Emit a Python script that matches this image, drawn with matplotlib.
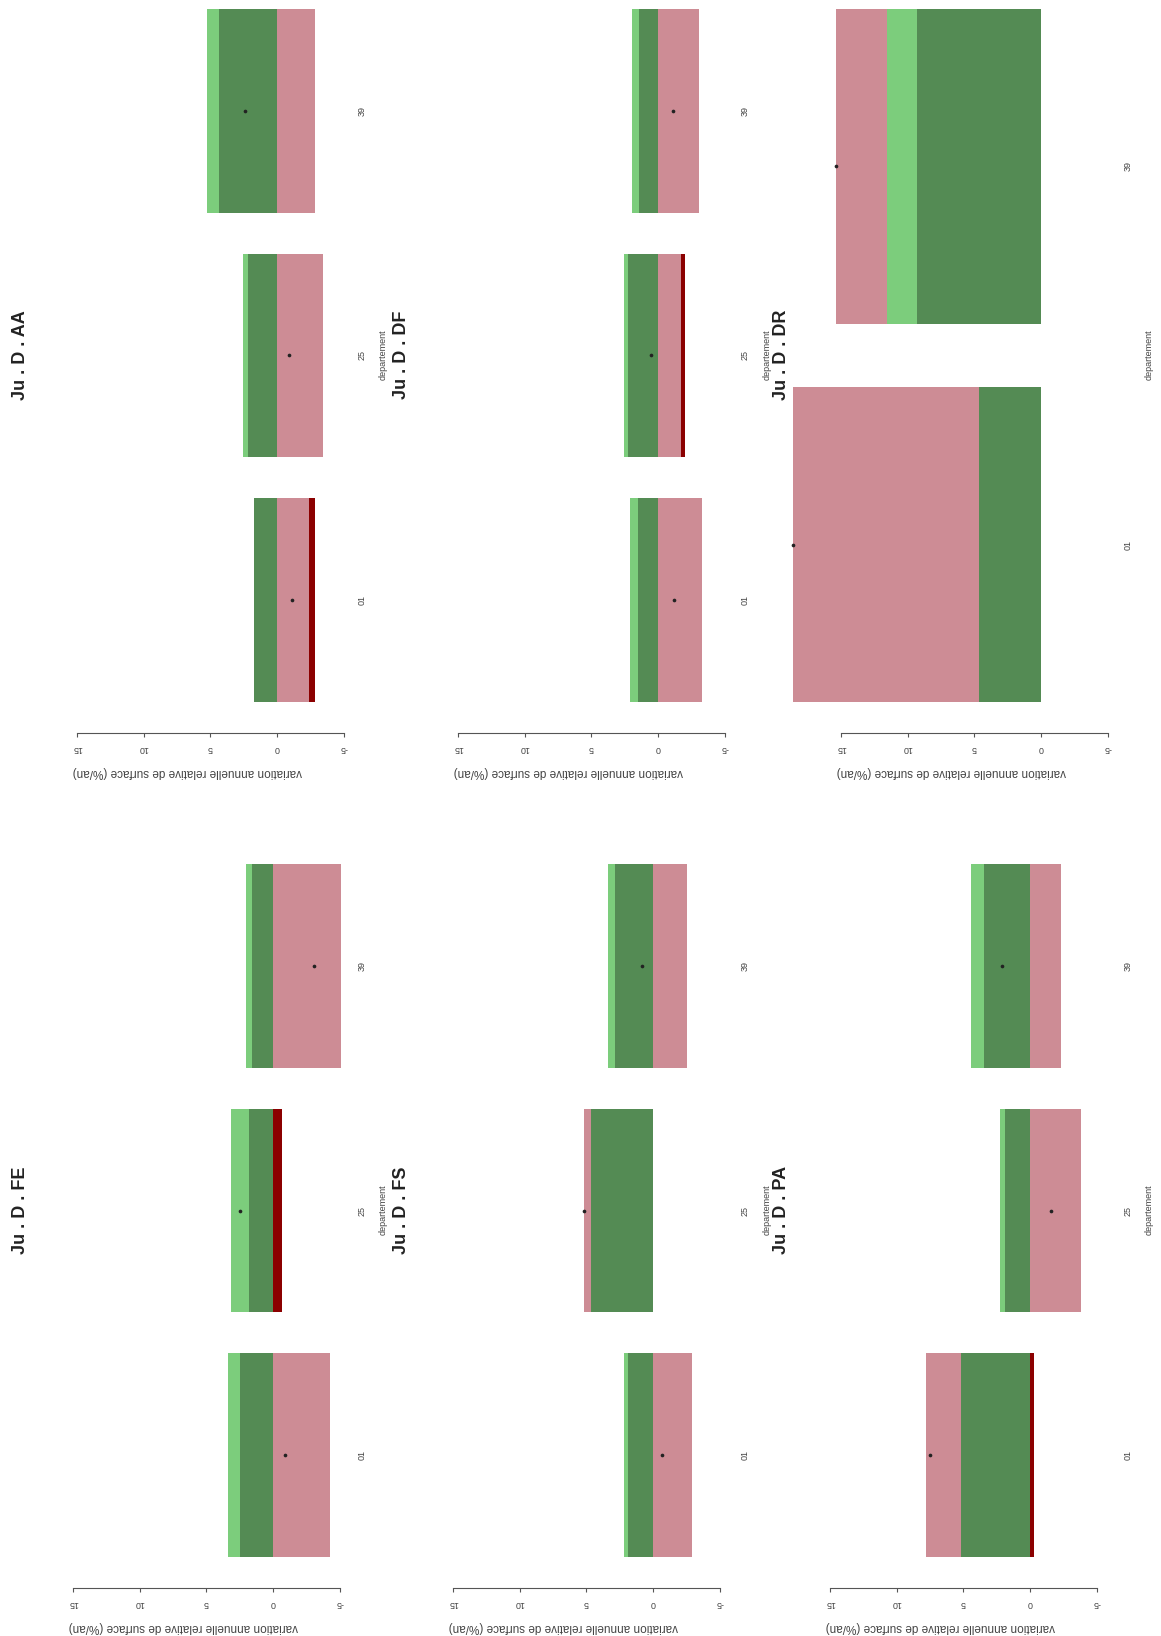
import matplotlib
matplotlib.use("Agg")
import matplotlib.pyplot as plt
import matplotlib.transforms as mtransforms

plt.rcParams['font.family'] = ['Liberation Sans', 'DejaVu Sans']

# one panel per zone, values in %/an
panel_names = ["Ju . D . AA", "Ju . D . DF", "Ju . D . DR",
               "Ju . D . FE", "Ju . D . FS", "Ju . D . PA"]
departements = [["01", "25", "39"], ["01", "25", "39"], ["01", "39"],
                ["01", "25", "39"], ["01", "25", "39"], ["01", "25", "39"]]
dark_green = [[1.72, 2.18, 4.35], [1.49, 2.27, 1.41], [4.65, 9.30],
              [2.48, 1.80, 1.56], [1.88, 4.62, 2.82], [5.16, 1.88, 3.44]]
light_green = [[0.00, 0.38, 0.90], [0.63, 0.31, 0.55], [0.00, 2.25],
               [0.90, 1.35, 0.47], [0.31, 0.00, 0.55], [0.00, 0.39, 1.02]]
pink = [[-2.43, -3.45, -2.85], [-3.29, -1.72, -3.05], [13.95, 3.83],
        [-4.28, 0.00, -5.09], [-2.90, 0.55, -2.58], [2.66, -3.83, -2.35]]
dark_red = [[-0.39, 0.00, 0.00], [0.00, -0.31, 0.00], [0.00, 0.00],
            [0.00, -0.70, 0.00], [0.00, 0.00, 0.00], [-0.31, 0.00, 0.00]]
net = [[-1.10, -0.89, 2.40], [-1.17, 0.55, -1.09], [18.60, 15.38],
       [-0.90, 2.45, -3.06], [-0.71, 5.17, 0.79], [7.51, -1.56, 2.11]]
value_ticks = [-5, 0, 5, 10, 15]

colors = ["#548B54", "#7CCD7C", "#CD8C95", "#8B0000"]

W, H = 1161, 1636
fig = plt.figure(figsize=(W / 100, H / 100), dpi=100)


def fx(x):
    return x / W


def fy(y):
    return 1 - y / H


# layout (pixels): zero line x, bottom of region, title x, label x, xlab x
zero_x = [277, 658, 1041, 273, 653, 1030]
bottom_y = [730, 730, 730, 1585, 1585, 1585]
title_x = [21, 402, 782, 21, 402, 782]
cat_x = [362, 745, 1128, 362, 745, 1128]
xlab_x = [383, 767, 1149, 383, 767, 1149]

S = 13.33           # px per %/an
VMAX, VMIN = 19.55, -6.04
REG_H = 749

for k in range(6):
    cats = departements[k]
    n = len(cats)
    pos = [0.7 + 1.2 * i for i in range(n)]
    left = zero_x[k] - VMAX * S
    ax = fig.add_axes([fx(left), fy(bottom_y[k]), (VMAX - VMIN) * S / W, REG_H / H])
    ax.set_xlim(VMAX, VMIN)
    lo = 0.2 - 0.04 * (1.2 * n - 0.2)
    ax.set_ylim(lo, 1.2 * n + 0.2 - lo + 0.2 - 0.2)
    ax.set_ylim(lo, 1.2 * n - 0.2 + 0.2 + (0.2 - lo))

    pos_base = [0.0] * n
    neg_base = [0.0] * n
    for vals, c in zip([dark_green[k], light_green[k], pink[k], dark_red[k]], colors):
        lefts = []
        for i, v in enumerate(vals):
            if v >= 0:
                lefts.append(pos_base[i])
                pos_base[i] += v
            else:
                lefts.append(neg_base[i])
                neg_base[i] += v
        ax.barh(pos, vals, left=lefts, height=1.0, color=c, linewidth=0)
    ax.scatter(net[k], pos, s=7, color="#222222", zorder=5, linewidths=0)

    for s in ["top", "left", "right"]:
        ax.spines[s].set_visible(False)
    ax.spines["bottom"].set_bounds(value_ticks[0], value_ticks[-1])
    ax.spines["bottom"].set_position(("outward", 2))
    ax.spines["bottom"].set_color("#555555")
    ax.spines["bottom"].set_linewidth(0.8)
    ax.set_xticks(value_ticks)
    ax.set_xticklabels([str(t) for t in value_ticks])
    ax.tick_params(axis="x", length=3, width=0.8, color="#555555",
                   labelsize=6.5, labelcolor="#444444", pad=5, labelrotation=180)
    ax.set_yticks([])

    tr = mtransforms.blended_transform_factory(fig.transFigure, ax.transData)
    for p, c in zip(pos, cats):
        ax.text(fx(cat_x[k]), p, c, transform=tr, rotation=90, fontsize=6.5,
                color="#444444", ha="center", va="center")

    tr2 = mtransforms.blended_transform_factory(ax.transAxes, fig.transFigure)
    ax.text(0.5, fy(bottom_y[k] + 42), "variation annuelle relative de surface (%/an)",
            transform=tr2, rotation=180, fontsize=8.5, color="#444444",
            ha="center", va="center")

    mid = bottom_y[k] - 375
    fig.text(fx(xlab_x[k]), fy(mid), "departement", rotation=90, fontsize=6.5,
             color="#444444", ha="center", va="center")
    fig.text(fx(title_x[k]), fy(mid), panel_names[k], rotation=90, fontsize=13,
             fontweight="bold", color="#222222", ha="center", va="center")

fig.savefig("out.png", dpi=100)
